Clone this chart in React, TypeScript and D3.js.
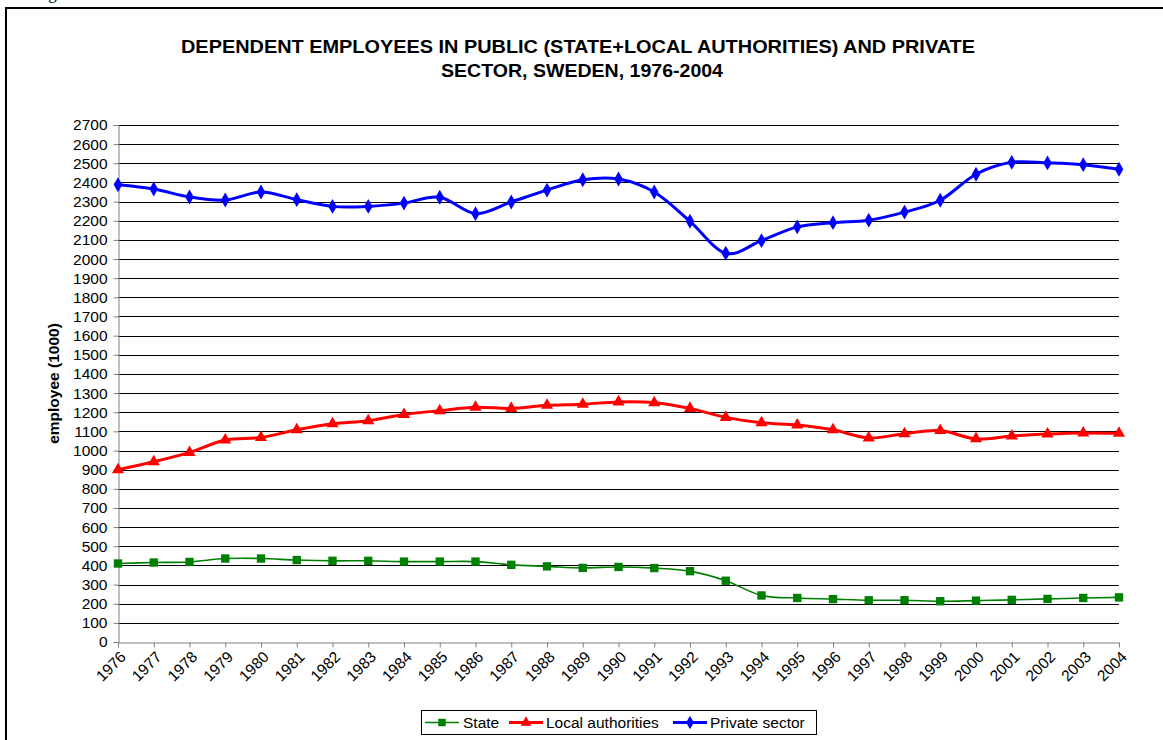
import React, { useEffect, useRef } from "react";
import * as d3 from "d3";

const years = d3.range(1976, 2005).map(String);
const yTicks = d3.range(0, 2701, 100);

const stateValues = [410, 415, 418, 436, 436, 428, 424, 424, 420, 420, 420, 403, 395, 387, 392,
  386, 370, 320, 243, 230, 224, 218, 218, 213, 216, 220, 225, 230, 233];
const localValues = [900, 941, 990, 1055, 1068, 1108, 1140, 1156, 1188, 1208, 1226, 1220, 1236, 1242, 1254,
  1250, 1220, 1173, 1145, 1133, 1108, 1066, 1088, 1104, 1061, 1076, 1086, 1092, 1090];
const privateValues = [2388, 2366, 2324, 2308, 2350, 2310, 2275, 2275, 2292, 2323, 2237, 2298, 2360, 2414, 2418,
  2350, 2197, 2030, 2096, 2168, 2190, 2203, 2245, 2307, 2443, 2505, 2502, 2493, 2469];

const seriesNames = ["State", "Local authorities", "Private sector"];

const App = () => {
  const ref = useRef<SVGSVGElement | null>(null);

  useEffect(() => {
    const svg = d3.select(ref.current);
    svg.selectAll("*").remove();

    const margin = { left: 118, right: 44, top: 125, bottom: 98 };
    const W = 1163, H = 740;
    const font = "Liberation Sans, Arial, sans-serif";
    const fs = "15.5px";

    // frame & cut figure caption
    svg.append("text").attr("x", 34).attr("y", -1).style("font-family", "Liberation Serif, Times New Roman, serif")
      .style("font-size", "17px").text("Figure 6");
    svg.append("rect").attr("x", 6).attr("y", 8).attr("width", 1200).attr("height", 800)
      .attr("fill", "none").attr("stroke", "#000").attr("stroke-width", 2);

    const x = d3.scalePoint().domain(years).range([margin.left, W - margin.right]);
    const y = d3.scaleLinear().domain([0, 2700]).range([H - margin.bottom, margin.top]);

    // title
    const title = svg.append("text").attr("text-anchor", "middle").style("font-family", font)
      .style("font-weight", "bold").style("font-size", "17.5px");
    title.append("tspan").attr("x", 578).attr("y", 53).attr("textLength", 794).attr("lengthAdjust", "spacingAndGlyphs")
      .text("DEPENDENT EMPLOYEES IN PUBLIC (STATE+LOCAL AUTHORITIES) AND PRIVATE");
    title.append("tspan").attr("x", 582).attr("y", 77).attr("textLength", 282).attr("lengthAdjust", "spacingAndGlyphs")
      .text("SECTOR, SWEDEN, 1976-2004");

    // gridlines
    svg.append("g").selectAll("line").data(yTicks.filter(d => d > 0)).join("line")
      .attr("x1", margin.left).attr("x2", W - margin.right)
      .attr("y1", d => Math.round(y(d)) + 0.5).attr("y2", d => Math.round(y(d)) + 0.5)
      .attr("stroke", "#000").attr("stroke-width", 1);

    // y axis
    const yAxis = svg.append("g").attr("transform", `translate(${margin.left + 0.5},0)`)
      .call(d3.axisLeft(y).tickValues(yTicks).tickSize(5).tickPadding(6).tickFormat(d3.format("d")));
    yAxis.select(".domain").attr("stroke", "#808080");
    yAxis.selectAll(".tick line").attr("stroke", "#808080");
    yAxis.selectAll("text").style("font-family", font).style("font-size", fs).attr("fill", "#000");

    // x axis
    const xAxis = svg.append("g").attr("transform", `translate(0,${Math.round(y(0)) + 0.5})`)
      .call(d3.axisBottom(x).tickSize(5).tickSizeOuter(0).tickFormat(() => ""));
    xAxis.select(".domain").attr("stroke", "#808080");
    xAxis.selectAll(".tick line").attr("stroke", "#808080");
    svg.append("g").selectAll("text").data(years).join("text")
      .attr("transform", d => `translate(${(x(d) as number) + 5},${y(0) + 12}) rotate(-45)`)
      .attr("text-anchor", "end").attr("dy", "0.35em")
      .style("font-family", font).style("font-size", fs).text(d => d);

    // y axis title
    svg.append("text").attr("transform", `translate(59,${(y(0) + y(2700)) / 2}) rotate(-90)`)
      .attr("text-anchor", "middle").style("font-family", font).style("font-weight", "bold")
      .style("font-size", fs).text("employee (1000)");

    const line = d3.line<number>().x((_, i) => x(years[i]) as number).y(d => y(d)).curve(d3.curveCatmullRom.alpha(0));

    const series = [
      { name: seriesNames[0], values: stateValues, color: "#008000", width: 1.6, sym: d3.symbolSquare, size: 70 },
      { name: seriesNames[1], values: localValues, color: "#FF0000", width: 3, sym: d3.symbolTriangle, size: 64 },
      { name: seriesNames[2], values: privateValues, color: "#0000FF", width: 3, sym: d3.symbolDiamond, size: 64 },
    ];

    series.forEach(s => {
      svg.append("path").datum(s.values).attr("d", line).attr("fill", "none")
        .attr("stroke", s.color).attr("stroke-width", s.width);
      svg.append("g").selectAll("path").data(s.values).join("path")
        .attr("transform", (d, i) => `translate(${x(years[i])},${y(d)})`)
        .attr("d", d3.symbol().type(s.sym).size(s.size)).attr("fill", s.color);
    });

    // legend
    const lg = svg.append("g");
    lg.append("rect").attr("x", 421.5).attr("y", 710.5).attr("width", 395).attr("height", 24)
      .attr("fill", "#fff").attr("stroke", "#000").attr("stroke-width", 1);
    const items = [
      { x0: 425, tx: 463 },
      { x0: 509, tx: 546 },
      { x0: 673, tx: 710 },
    ];
    series.forEach((s, i) => {
      const it = items[i];
      lg.append("line").attr("x1", it.x0).attr("x2", it.x0 + 34).attr("y1", 722.5).attr("y2", 722.5)
        .attr("stroke", s.color).attr("stroke-width", s.width);
      lg.append("path").attr("transform", `translate(${it.x0 + 17},722.5)`)
        .attr("d", d3.symbol().type(s.sym).size(s.size * 0.8)).attr("fill", s.color);
      lg.append("text").attr("x", it.tx).attr("y", 728).style("font-family", font).style("font-size", fs)
        .text(s.name);
    });
  }, []);

  return (
    <svg ref={ref} width={1163} height={740}
      style={{ position: "absolute", left: 0, top: 0, background: "#fff", overflow: "hidden" }} />
  );
};

export default App;
